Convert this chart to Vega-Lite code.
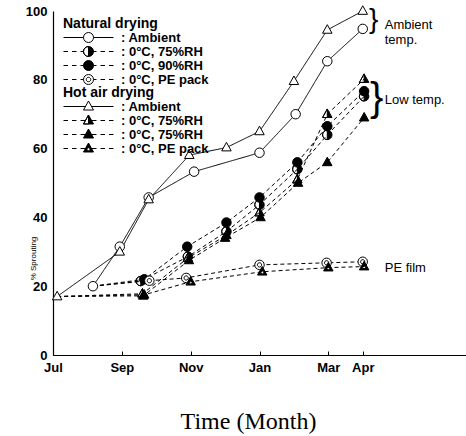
{
  "$schema": "https://vega.github.io/schema/vega-lite/v6.json",
  "width": 413,
  "height": 344,
  "autosize": "none",
  "padding": {"left": 53, "top": 11, "right": 0, "bottom": 81},
  "background": "white",
  "config": {
    "view": {"stroke": null},
    "axis": {"grid": false, "domainColor": "black", "domainWidth": 1.2, "tickColor": "black", "labelColor": "black", "titleColor": "black", "labelFont": "Liberation Sans", "labelFontWeight": "bold", "labelFontSize": 13},
    "legend": {"padding": 0, "titlePadding": 0, "rowPadding": -3.5, "labelFont": "Liberation Sans", "labelFontSize": 13, "labelFontWeight": "bold", "titleFont": "Liberation Sans", "titleFontSize": 14, "titleFontWeight": "bold", "titleColor": "black", "labelColor": "black", "symbolSize": 100, "symbolStrokeWidth": 1, "symbolOffset": 19, "labelOffset": 26, "labelLimit": 300, "titleLimit": 300}
  },
  "datasets": {
    "series": [
      {"group": "Natural", "cond": "Ambient", "month": 1.16, "value": 20},
      {"group": "Natural", "cond": "Ambient", "month": 1.94, "value": 31.5},
      {"group": "Natural", "cond": "Ambient", "month": 2.78, "value": 45.8},
      {"group": "Natural", "cond": "Ambient", "month": 4.1, "value": 53.3},
      {"group": "Natural", "cond": "Ambient", "month": 6.0, "value": 58.8},
      {"group": "Natural", "cond": "Ambient", "month": 7.05, "value": 70},
      {"group": "Natural", "cond": "Ambient", "month": 7.97, "value": 85.4},
      {"group": "Natural", "cond": "Ambient", "month": 9.0, "value": 94.8},
      {"group": "Natural", "cond": "0°C, 75%RH", "month": 1.16, "value": 20},
      {"group": "Natural", "cond": "0°C, 75%RH", "month": 2.55, "value": 21.5},
      {"group": "Natural", "cond": "0°C, 75%RH", "month": 3.92, "value": 28.6},
      {"group": "Natural", "cond": "0°C, 75%RH", "month": 5.04, "value": 35.9},
      {"group": "Natural", "cond": "0°C, 75%RH", "month": 6.0, "value": 43.7},
      {"group": "Natural", "cond": "0°C, 75%RH", "month": 7.1, "value": 54},
      {"group": "Natural", "cond": "0°C, 75%RH", "month": 7.97, "value": 64},
      {"group": "Natural", "cond": "0°C, 75%RH", "month": 9.04, "value": 75.2},
      {"group": "Natural", "cond": "0°C, 90%RH", "month": 1.16, "value": 20},
      {"group": "Natural", "cond": "0°C, 90%RH", "month": 2.65, "value": 22},
      {"group": "Natural", "cond": "0°C, 90%RH", "month": 3.9, "value": 31.5},
      {"group": "Natural", "cond": "0°C, 90%RH", "month": 5.04, "value": 38.5},
      {"group": "Natural", "cond": "0°C, 90%RH", "month": 6.0, "value": 45.8},
      {"group": "Natural", "cond": "0°C, 90%RH", "month": 7.1, "value": 56},
      {"group": "Natural", "cond": "0°C, 90%RH", "month": 7.97, "value": 66.5},
      {"group": "Natural", "cond": "0°C, 90%RH", "month": 9.04, "value": 76.7},
      {"group": "Natural", "cond": "0°C, PE pack", "month": 1.16, "value": 20},
      {"group": "Natural", "cond": "0°C, PE pack", "month": 2.8, "value": 21.6},
      {"group": "Natural", "cond": "0°C, PE pack", "month": 3.87, "value": 22.4},
      {"group": "Natural", "cond": "0°C, PE pack", "month": 6.0, "value": 26.2},
      {"group": "Natural", "cond": "0°C, PE pack", "month": 7.95, "value": 26.8},
      {"group": "Natural", "cond": "0°C, PE pack", "month": 9.0, "value": 27.1},
      {"group": "Hot air", "cond": "Ambient", "month": 0.12, "value": 17},
      {"group": "Hot air", "cond": "Ambient", "month": 1.94, "value": 30},
      {"group": "Hot air", "cond": "Ambient", "month": 2.78, "value": 45.2},
      {"group": "Hot air", "cond": "Ambient", "month": 3.96, "value": 58.1},
      {"group": "Hot air", "cond": "Ambient", "month": 5.04, "value": 60.3},
      {"group": "Hot air", "cond": "Ambient", "month": 6.0, "value": 65},
      {"group": "Hot air", "cond": "Ambient", "month": 7.0, "value": 79.6},
      {"group": "Hot air", "cond": "Ambient", "month": 7.97, "value": 94.5},
      {"group": "Hot air", "cond": "Ambient", "month": 9.0, "value": 100},
      {"group": "Hot air", "cond": "0°C, 75%RH", "month": 0.12, "value": 17},
      {"group": "Hot air", "cond": "0°C, 75%RH", "month": 2.6, "value": 17.8},
      {"group": "Hot air", "cond": "0°C, 75%RH", "month": 3.92, "value": 28.2},
      {"group": "Hot air", "cond": "0°C, 75%RH", "month": 5.04, "value": 34.8},
      {"group": "Hot air", "cond": "0°C, 75%RH", "month": 6.0, "value": 41.4},
      {"group": "Hot air", "cond": "0°C, 75%RH", "month": 7.1, "value": 51},
      {"group": "Hot air", "cond": "0°C, 75%RH", "month": 7.97, "value": 70},
      {"group": "Hot air", "cond": "0°C, 75%RH", "month": 9.04, "value": 80.2},
      {"group": "Hot air", "cond": "0°C, 90%RH", "month": 0.12, "value": 17},
      {"group": "Hot air", "cond": "0°C, 90%RH", "month": 2.62, "value": 17.2},
      {"group": "Hot air", "cond": "0°C, 90%RH", "month": 3.95, "value": 27.5},
      {"group": "Hot air", "cond": "0°C, 90%RH", "month": 5.0, "value": 34},
      {"group": "Hot air", "cond": "0°C, 90%RH", "month": 6.03, "value": 40},
      {"group": "Hot air", "cond": "0°C, 90%RH", "month": 7.12, "value": 50},
      {"group": "Hot air", "cond": "0°C, 90%RH", "month": 7.97, "value": 56},
      {"group": "Hot air", "cond": "0°C, 90%RH", "month": 9.04, "value": 69},
      {"group": "Hot air", "cond": "0°C, PE pack", "month": 0.12, "value": 17},
      {"group": "Hot air", "cond": "0°C, PE pack", "month": 2.65, "value": 17.5},
      {"group": "Hot air", "cond": "0°C, PE pack", "month": 4.0, "value": 21.3},
      {"group": "Hot air", "cond": "0°C, PE pack", "month": 6.08, "value": 24.2},
      {"group": "Hot air", "cond": "0°C, PE pack", "month": 8.0, "value": 25.4},
      {"group": "Hot air", "cond": "0°C, PE pack", "month": 9.04, "value": 25.7}
    ],
    "notes": [
      {"note": "Ambient\ntemp.", "month": 9, "value": 96},
      {"note": "Low temp.", "month": 9, "value": 74},
      {"note": "PE film", "month": 9, "value": 25.3}
    ]
  },
  "encoding": {
    "x": {"field": "month", "type": "quantitative", "scale": {"domain": [0, 12], "nice": false},
      "axis": {"values": [0, 2, 4, 6, 8, 9], "labelExpr": "['Jul','Aug','Sep','Oct','Nov','Dec','Jan','Feb','Mar','Apr'][datum.value]", "title": "Time (Month)", "titleFont": "Liberation Serif", "titleFontSize": 24, "titleFontWeight": "normal", "titleX": 195, "titleY": 66, "titleBaseline": "middle", "titleAlign": "center", "tickSize": -4, "labelPadding": 10, "labelFlush": false, "labelOverlap": false}},
    "y": {"field": "value", "type": "quantitative", "scale": {"domain": [0, 100], "nice": false},
      "axis": {"values": [0, 20, 40, 60, 80, 100], "ticks": false, "labelPadding": 6, "title": "% Sprouting", "titleFont": "Liberation Sans", "titleFontSize": 8, "titleFontWeight": "normal", "titleX": -20, "titleY": 247, "titleAlign": "center", "titleBaseline": "middle"}}
  },
  "layer": [
    {
      "mark": {"type": "rule", "color": "black", "strokeWidth": 1.2},
      "encoding": {"y": {"datum": 100}, "x": {"datum": 0}, "x2": {"datum": 12}}
    },
    {
      "data": {"name": "series"},
      "mark": {"type": "line", "color": "black", "strokeWidth": 1},
      "encoding": {
        "detail": [{"field": "group"}, {"field": "cond"}],
        "strokeDash": {"field": "cond", "type": "nominal", "scale": {"domain": ["Ambient", "0°C, 75%RH", "0°C, 90%RH", "0°C, PE pack"], "range": [[1, 0], [4, 3], [4, 3], [4, 3]]}, "legend": null}
      }
    },
    {
      "data": {"name": "series"},
      "transform": [{"filter": "datum.group === 'Natural' && (datum.cond === 'Ambient' || datum.month > 1.5)"}],
      "mark": {"type": "point", "size": 90, "stroke": "black", "strokeWidth": 1, "opacity": 1, "fillOpacity": 1},
      "encoding": {
        "shape": {"field": "cond", "type": "nominal",
          "scale": {"domain": ["Ambient", "0°C, 75%RH", "0°C, 90%RH", "0°C, PE pack"],
            "range": ["M1,0A1,1 0 1,1 -1,0A1,1 0 1,1 1,0Z", "M1,0A1,1 0 1,1 -1,0A1,1 0 1,1 1,0ZM0,-1A1,1 0 0,0 0,1Z", "M1,0A1,1 0 1,1 -1,0A1,1 0 1,1 1,0Z", "M1,0A1,1 0 1,1 -1,0A1,1 0 1,1 1,0ZM0.45,0A0.45,0.45 0 1,1 -0.45,0A0.45,0.45 0 1,1 0.45,0Z"]},
          "legend": null
        },
        "fill": {"field": "cond", "type": "nominal", "scale": {"domain": ["Ambient", "0°C, 75%RH", "0°C, 90%RH", "0°C, PE pack"], "range": ["white", "black", "black", "white"]}, "legend": null}
      }
    },
    {
      "data": {"name": "series"},
      "transform": [{"filter": "datum.group === 'Hot air' && (datum.cond === 'Ambient' || datum.month > 1.5)"}],
      "mark": {"type": "point", "size": 90, "stroke": "black", "strokeWidth": 1, "opacity": 1, "fillOpacity": 1},
      "encoding": {
        "shape": {"field": "cond", "type": "nominal",
          "scale": {"domain": ["Ambient", "0°C, 75%RH", "0°C, 90%RH", "0°C, PE pack"],
            "range": ["M0,-1.1L1,0.7L-1,0.7Z", "M0,-1.1L1,0.7L-1,0.7ZM0,-1.1L-1,0.7L0,0.7Z", "M0,-1.1L1,0.7L-1,0.7Z", "M0,-1.1L1,0.7L-1,0.7ZM0.3,0.15A0.3,0.3 0 1,0 -0.3,0.15A0.3,0.3 0 1,0 0.3,0.15Z"]},
          "legend": null
        },
        "fill": {"field": "cond", "type": "nominal", "scale": {"domain": ["Ambient", "0°C, 75%RH", "0°C, 90%RH", "0°C, PE pack"], "range": ["white", "black", "black", "black"]}, "legend": null}
      }
    },
    {
      "data": {"name": "series"},
      "transform": [{"filter": "datum.group === 'Natural' && datum.month > 100"}],
      "mark": {"type": "point", "stroke": "black", "strokeWidth": 1, "opacity": 1, "fillOpacity": 1},
      "encoding": {
        "shape": {"field": "cond", "type": "nominal",
          "scale": {"domain": ["Ambient", "0°C, 75%RH", "0°C, 90%RH", "0°C, PE pack"],
            "range": ["M-5,0H-1M1,0H5M1,0A1,1 0 1,1 -1,0A1,1 0 1,1 1,0Z", "M-5,0H-4.1M-3.3,0H-2.4M-1.6,0H-1M1,0H1.6M2.4,0H3.3M4.1,0H5M1,0A1,1 0 1,1 -1,0A1,1 0 1,1 1,0ZM0,-1A1,1 0 0,0 0,1Z", "M-5,0H-4.1M-3.3,0H-2.4M-1.6,0H-1M1,0H1.6M2.4,0H3.3M4.1,0H5M1,0A1,1 0 1,1 -1,0A1,1 0 1,1 1,0Z", "M-5,0H-4.1M-3.3,0H-2.4M-1.6,0H-1M1,0H1.6M2.4,0H3.3M4.1,0H5M1,0A1,1 0 1,1 -1,0A1,1 0 1,1 1,0ZM0.45,0A0.45,0.45 0 1,1 -0.45,0A0.45,0.45 0 1,1 0.45,0Z"]},
          "legend": {"orient": "none", "legendX": 10, "legendY": 6, "title": "Natural drying", "labelExpr": "': ' + datum.label"}
        },
        "fill": {"field": "cond", "type": "nominal", "scale": {"domain": ["Ambient", "0°C, 75%RH", "0°C, 90%RH", "0°C, PE pack"], "range": ["white", "black", "black", "white"]}, "legend": null}
      }
    },
    {
      "data": {"name": "series"},
      "transform": [{"filter": "datum.group === 'Hot air' && datum.month > 100"}],
      "mark": {"type": "point", "stroke": "black", "strokeWidth": 1, "opacity": 1, "fillOpacity": 1},
      "encoding": {
        "shape": {"field": "cond", "type": "nominal",
          "scale": {"domain": ["Ambient", "0°C, 75%RH", "0°C, 90%RH", "0°C, PE pack"],
            "range": ["M-5,0H-0.6M0.6,0H5M0,-1.1L1,0.7L-1,0.7Z", "M-5,0H-4.1M-3.3,0H-2.4M-1.6,0H-0.6M0.6,0H1.6M2.4,0H3.3M4.1,0H5M0,-1.1L1,0.7L-1,0.7ZM0,-1.1L-1,0.7L0,0.7Z", "M-5,0H-4.1M-3.3,0H-2.4M-1.6,0H-0.6M0.6,0H1.6M2.4,0H3.3M4.1,0H5M0,-1.1L1,0.7L-1,0.7Z", "M-5,0H-4.1M-3.3,0H-2.4M-1.6,0H-0.6M0.6,0H1.6M2.4,0H3.3M4.1,0H5M0,-1.1L1,0.7L-1,0.7ZM0.3,0.15A0.3,0.3 0 1,0 -0.3,0.15A0.3,0.3 0 1,0 0.3,0.15Z"]},
          "legend": {"orient": "none", "legendX": 10, "legendY": 75, "title": "Hot air drying", "labelExpr": "': ' + (datum.label === '0°C, 90%RH' ? '0°C, 75%RH' : datum.label)"}
        },
        "fill": {"field": "cond", "type": "nominal", "scale": {"domain": ["Ambient", "0°C, 75%RH", "0°C, 90%RH", "0°C, PE pack"], "range": ["white", "black", "black", "black"]}, "legend": null}
      }
    },
    {
      "data": {"name": "notes"},
      "mark": {"type": "text", "align": "left", "baseline": "middle", "dx": 22, "font": "Liberation Sans", "fontSize": 13, "lineBreak": "\n", "lineHeight": 15, "color": "black"},
      "encoding": {"text": {"field": "note"}}
    },
    {
      "data": {"values": [{"month": 9, "value": 97.5}]},
      "mark": {"type": "text", "text": "}", "align": "center", "baseline": "middle", "dx": 11, "font": "Liberation Sans", "fontSize": 28, "color": "black"}
    },
    {
      "data": {"values": [{"month": 9, "value": 74.5}]},
      "mark": {"type": "text", "text": "}", "align": "center", "baseline": "middle", "dx": 14, "font": "Liberation Sans", "fontSize": 40, "color": "black"}
    }
  ],
  "resolve": {"scale": {"shape": "independent", "fill": "independent"}, "legend": {"shape": "independent"}}
}
